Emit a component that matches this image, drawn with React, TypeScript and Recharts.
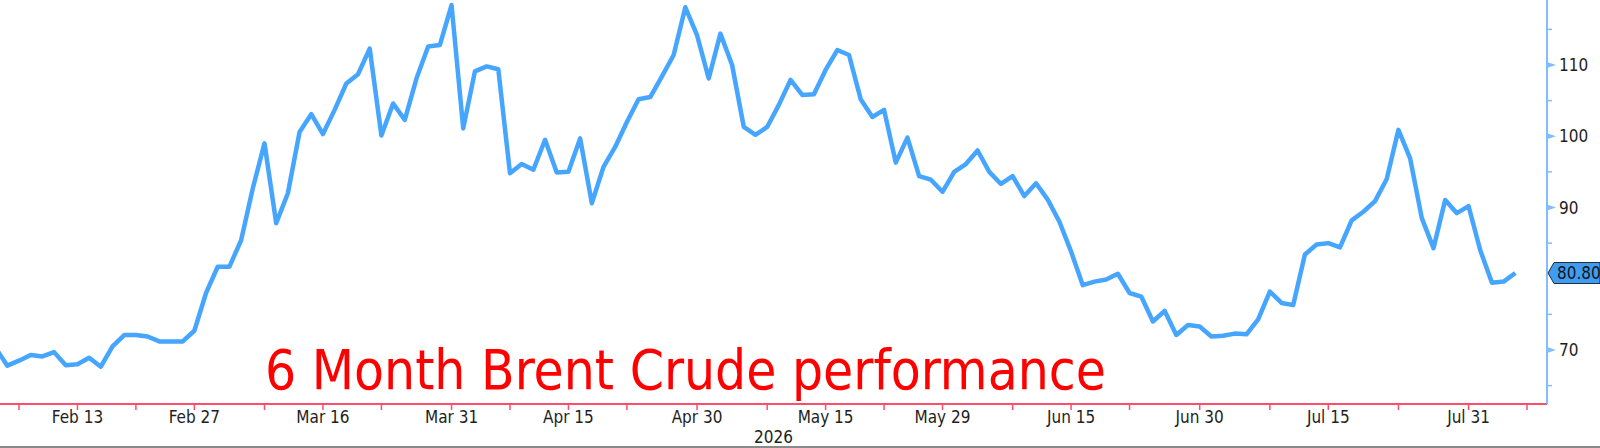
import * as React from "react"
import { LineChart, Line, XAxis, YAxis } from "recharts"

// Brent front month, one point per ICE trading day from 4 Feb 2026
const prices = [
  70.3, 67.8, 68.5, 69.3, 69.1, 69.7, 67.85, 68.0, 68.9, 67.65,
  70.5, 72.1, 72.1, 71.9, 71.2, 71.2, 71.2, 72.7, 78.0, 81.7,
  81.7, 85.4, 92.7, 99.0, 87.8, 92.0, 100.6, 103.1, 100.3, 103.7,
  107.4, 108.7, 112.3, 100.1, 104.6, 102.3, 108.1, 112.6, 112.8, 118.4,
  101.1, 109.1, 109.8, 109.4, 94.8, 96.1, 95.3, 99.5, 94.9, 95.0,
  99.7, 90.6, 95.7, 98.5, 102.0, 105.2, 105.5, 108.4, 111.4, 118.1,
  114.2, 108.1, 114.4, 110.0, 101.3, 100.2, 101.3, 104.4, 107.9, 105.8,
  105.9, 109.3, 112.1, 111.4, 105.2, 102.7, 103.7, 96.3, 99.8, 94.4,
  93.9, 92.2, 95.0, 96.1, 98.0, 95.0, 93.3, 94.4, 91.6, 93.4,
  91.1, 88.0, 83.8, 79.1, 79.6, 79.9, 80.7, 78.0, 77.5, 74.0,
  75.5, 72.1, 73.5, 73.3, 71.9, 72.0, 72.3, 72.2, 74.3, 78.2,
  76.6, 76.3, 83.4, 84.8, 85.0, 84.4, 88.2, 89.4, 90.9, 94.0,
  100.9, 96.9, 88.5, 84.3, 91.05, 89.2, 90.2, 84.0, 79.45, 79.6,
  80.8,
]

const firstDay = "2026-02-04"
const holidays = ["2026-04-03"]

const labelTicks = [
  "Feb 13", "Feb 27", "Mar 16", "Mar 31", "Apr 15", "Apr 30",
  "May 15", "May 29", "Jun 15", "Jun 30", "Jul 15", "Jul 31",
]
const minorTicks = [
  "Feb 6", "Feb 20", "Mar 9", "Mar 23", "Apr 8", "Apr 22",
  "May 8", "May 22", "Jun 8", "Jun 22", "Jul 8", "Jul 23", "Aug 7",
]

const priceTicks = [65, 70, 75, 80, 85, 90, 95, 100, 105, 110, 115, 120]
const yearLabel = "2026"
const title = "6 Month Brent Crude performance"

const MONTHS = ["Jan", "Feb", "Mar", "Apr", "May", "Jun", "Jul", "Aug", "Sep", "Oct", "Nov", "Dec"]

function tradingDays(start: string, count: number) {
  const out: string[] = []
  const d = new Date(start + "T00:00:00Z")
  while (out.length < count) {
    const iso = d.toISOString().slice(0, 10)
    const wd = d.getUTCDay()
    if (wd !== 0 && wd !== 6 && !holidays.includes(iso)) {
      out.push(`${MONTHS[d.getUTCMonth()]} ${d.getUTCDate()}`)
    }
    d.setUTCDate(d.getUTCDate() + 1)
  }
  return out
}

const days = tradingDays(firstDay, prices.length + 1)
const data = prices.map((price, i) => ({ i, date: days[i], price }))
const lastPrice = prices[prices.length - 1]

const BLUE = "#45a5ff"
const AXIS_BLUE = "#80beff"
const PINK = "#ff4d6d"
const FONT = "'DejaVu Sans Condensed', 'DejaVu Sans', sans-serif"

function DateTick({ x, y, payload }: any) {
  const label = days[payload.value]
  const major = labelTicks.includes(label)
  return (
    <g>
      <line x1={x} x2={x} y1={y} y2={y + 6} stroke={PINK} strokeWidth={1.5} />
      {major && (
        <text
          x={x}
          y={y + 19}
          textAnchor="middle"
          fontFamily={FONT}
          fontStretch="condensed"
          fontSize={17}
          fill="#1e1e1e"
        >
          {label}
        </text>
      )}
    </g>
  )
}

function PriceTick({ x, y, payload }: any) {
  const v = payload.value
  if (v === lastPrice) {
    return (
      <g>
        <polygon
          points={`${x + 1},${y} ${x + 7},${y - 10.5} 1600,${y - 10.5} 1600,${y + 10.5} ${x + 7},${y + 10.5}`}
          fill="#3f9cf5"
          stroke="#2a2a2a"
          strokeWidth={1}
        />
        <text
          x={x + 10}
          y={y}
          dy="0.36em"
          fontFamily={FONT}
          fontStretch="condensed"
          fontSize={17}
          fill="#151515"
        >
          {v.toFixed(2)}
        </text>
      </g>
    )
  }
  if (v % 10 !== 0) {
    return <line x1={x} x2={x + 5} y1={y} y2={y} stroke={AXIS_BLUE} strokeWidth={1.5} />
  }
  return (
    <g>
      <polygon points={`${x},${y - 3} ${x + 9},${y} ${x},${y + 3}`} fill={AXIS_BLUE} />
      <text
        x={x + 12}
        y={y}
        dy="0.36em"
        fontFamily={FONT}
        fontStretch="condensed"
        fontSize={17}
        fill="#1e1e1e"
      >
        {v}
      </text>
    </g>
  )
}

export default function App() {
  const dateTicks = [...minorTicks, ...labelTicks]
    .map((l) => days.indexOf(l))
    .filter((i) => i >= 0)
    .sort((a, b) => a - b)

  // the last-price tag hides the tick right under it
  const yTicks = [...priceTicks.filter((t) => Math.abs(t - lastPrice) > 1.5), lastPrice]

  return (
    <div style={{ position: "absolute", left: 0, top: 0, width: 1600, height: 448, background: "#fff" }}>
      <LineChart width={1600} height={448} data={data} margin={{ top: 0, right: 0, bottom: 0, left: 0 }}>
        <XAxis
          dataKey="i"
          type="number"
          domain={[0.374, 132.71]}
          allowDataOverflow
          ticks={dateTicks}
          interval={0}
          height={44}
          tickSize={0}
          tickMargin={0}
          tickLine={false}
          axisLine={{ stroke: PINK, strokeWidth: 2 }}
          tick={<DateTick />}
          label={{
            value: yearLabel,
            position: "insideBottom",
            offset: 5,
            fontFamily: FONT,
            fontSize: 17,
            fill: "#1e1e1e",
          }}
        />
        <YAxis
          orientation="right"
          type="number"
          domain={[62.42, 119.12]}
          allowDataOverflow
          ticks={yTicks}
          interval={0}
          width={53}
          tickSize={0}
          tickMargin={0}
          tickLine={false}
          axisLine={{ stroke: AXIS_BLUE, strokeWidth: 2 }}
          tick={<PriceTick />}
        />
        <Line
          type="linear"
          dataKey="price"
          stroke={BLUE}
          strokeWidth={4.5}
          strokeLinejoin="round"
          dot={false}
          isAnimationActive={false}
        />
      </LineChart>
      <svg
        width={1600}
        height={448}
        style={{ position: "absolute", left: 0, top: 0, pointerEvents: "none" }}
      >
        <text x={265} y={389} fontFamily={FONT} fontStretch="condensed" fontSize={54.5} fill="#ff0000">
          {title}
        </text>
        <rect x={0} y={446} width={1600} height={2} fill="#8a8a8a" />
      </svg>
    </div>
  )
}
